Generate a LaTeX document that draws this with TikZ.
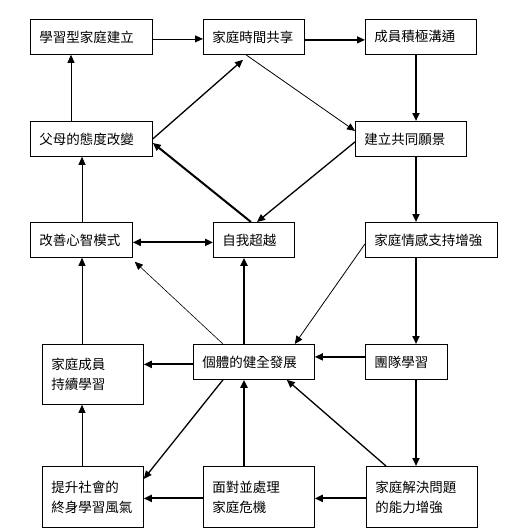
\documentclass[tikz,border=0pt]{standalone}
\usepackage{fontspec}
\newfontfamily\cjk{Noto Sans CJK TC}
\usetikzlibrary{arrows.meta}
\begin{document}
\begin{tikzpicture}[x=1pt,y=-1pt,
  box/.style={draw, line width=0.8pt, anchor=north west, inner xsep=9pt, inner ysep=0pt,
    align=left, font=\cjk\fontsize{13.5}{20}\selectfont},
  thin/.style={line width=0.8pt, -{Triangle[length=8pt,width=7pt]}},
  mid/.style={line width=1.3pt, -{Triangle[length=8pt,width=7pt]}},
  thick/.style={line width=2pt, -{Triangle[length=8pt,width=7pt]}},
  both/.style={line width=2pt, {Triangle[length=8pt,width=7pt]}-{Triangle[length=8pt,width=7pt]}}]
\useasboundingbox (0,0) rectangle (508,528);
% boxes
\node[box, minimum height=35pt, text width=104pt] (A) at (30,19) {學習型家庭建立};
\node[box, minimum height=35pt, text width=83pt]  (B) at (203,19) {家庭時間共享};
\node[box, minimum height=35pt, text width=93pt]  (C) at (365,19) {成員積極溝通};
\node[box, minimum height=35pt, text width=104pt] (D) at (30,121) {父母的態度改變};
\node[box, minimum height=35pt, text width=93pt]  (E) at (355,121) {建立共同願景};
\node[box, minimum height=35pt, text width=84pt]  (F) at (30,222) {改善心智模式};
\node[box, minimum height=35pt, text width=63pt]  (G) at (213,222) {自我超越};
\node[box, minimum height=35pt, text width=114pt] (H) at (365,222) {家庭情感支持增強};
\node[box, minimum height=60pt, text width=83pt]  (I) at (42,344) {家庭成員\\持續學習};
\node[box, minimum height=35pt, text width=103pt] (J) at (193,344) {個體的健全發展};
\node[box, minimum height=35pt, text width=64pt]  (K) at (365,344) {團隊學習};
\node[box, minimum height=61pt, text width=83pt]  (L) at (42,466) {提升社會的\\終身學習風氣};
\node[box, minimum height=61pt, text width=93pt]  (M) at (203,466) {面對並處理\\家庭危機};
\node[box, minimum height=61pt, text width=93pt]  (N) at (366,466) {家庭解決問題\\的能力增強};
% connectors
\draw[thin]  ([yshift=-2pt]A.east) -- ([yshift=-2pt]B.west);
\draw[mid]   ([yshift=-3pt]B.east) -- ([yshift=-3pt]C.west);
\draw[thick] ([xshift=51pt]C.south west) -- ([xshift=61pt]E.north west);
\draw[thin]  ([xshift=43pt]B.south west) -- ([yshift=8pt]E.west);
\draw[mid]   (D.east) -- ([xshift=40pt,yshift=-5pt]B.south west);
\draw[mid]   ([yshift=-3pt]E.west) -- ([xshift=44pt]G.north west);
\draw[thick] ([xshift=38pt]G.north west) -- ([yshift=-4pt]D.east);
\draw[thick] ([xshift=61pt]E.south west) -- ([xshift=51pt]H.north west);
\draw[both]  ([yshift=-2.5pt]F.east) -- ([yshift=-2.5pt]G.west);
\draw[thin]  ([xshift=52pt]F.north west) -- ([xshift=52pt]D.south west);
\draw[thin]  ([xshift=41pt]D.north west) -- ([xshift=41pt]A.south west);
\draw[thin]  ([xshift=40pt]I.north west) -- ([xshift=52pt]F.south west);
\draw[line width=0.6pt, -{Triangle[length=8pt,width=7pt]}] ([xshift=30pt]J.north west) -- ([xshift=2pt,yshift=-4pt]F.south east);
\draw[thick] ([xshift=51pt]J.north west) -- ([xshift=31pt]G.south west);
\draw[thin]  ([yshift=-4pt]H.west) -- ([xshift=-20pt]J.north east);
\draw[thick] ([xshift=51pt]H.south west) -- ([xshift=51pt]K.north west);
\draw[mid]   ([yshift=5pt]K.west) -- ([yshift=5pt]J.east);
\draw[thick] ([yshift=-2.5pt]J.west) -- ([yshift=10pt]I.east);
\draw[mid]   ([xshift=30pt]J.south west) -- ([yshift=18pt]L.east);
\draw[thin]  ([xshift=40pt]L.north west) -- ([xshift=40pt]I.south west);
\draw[thick] ([xshift=41pt]M.north west) -- ([xshift=51pt]J.south west);
\draw[thick] ([yshift=-1.5pt]M.west) -- ([yshift=-1.5pt]L.east);
\draw[thick] ([xshift=51pt]K.south west) -- ([xshift=50pt]N.north west);
\draw[mid]   ([xshift=20pt]N.north west) -- ([xshift=-28pt]J.south east);
\draw[thick] ([yshift=-1.5pt]N.west) -- ([yshift=-1.5pt]M.east);
\end{tikzpicture}
\end{document}
